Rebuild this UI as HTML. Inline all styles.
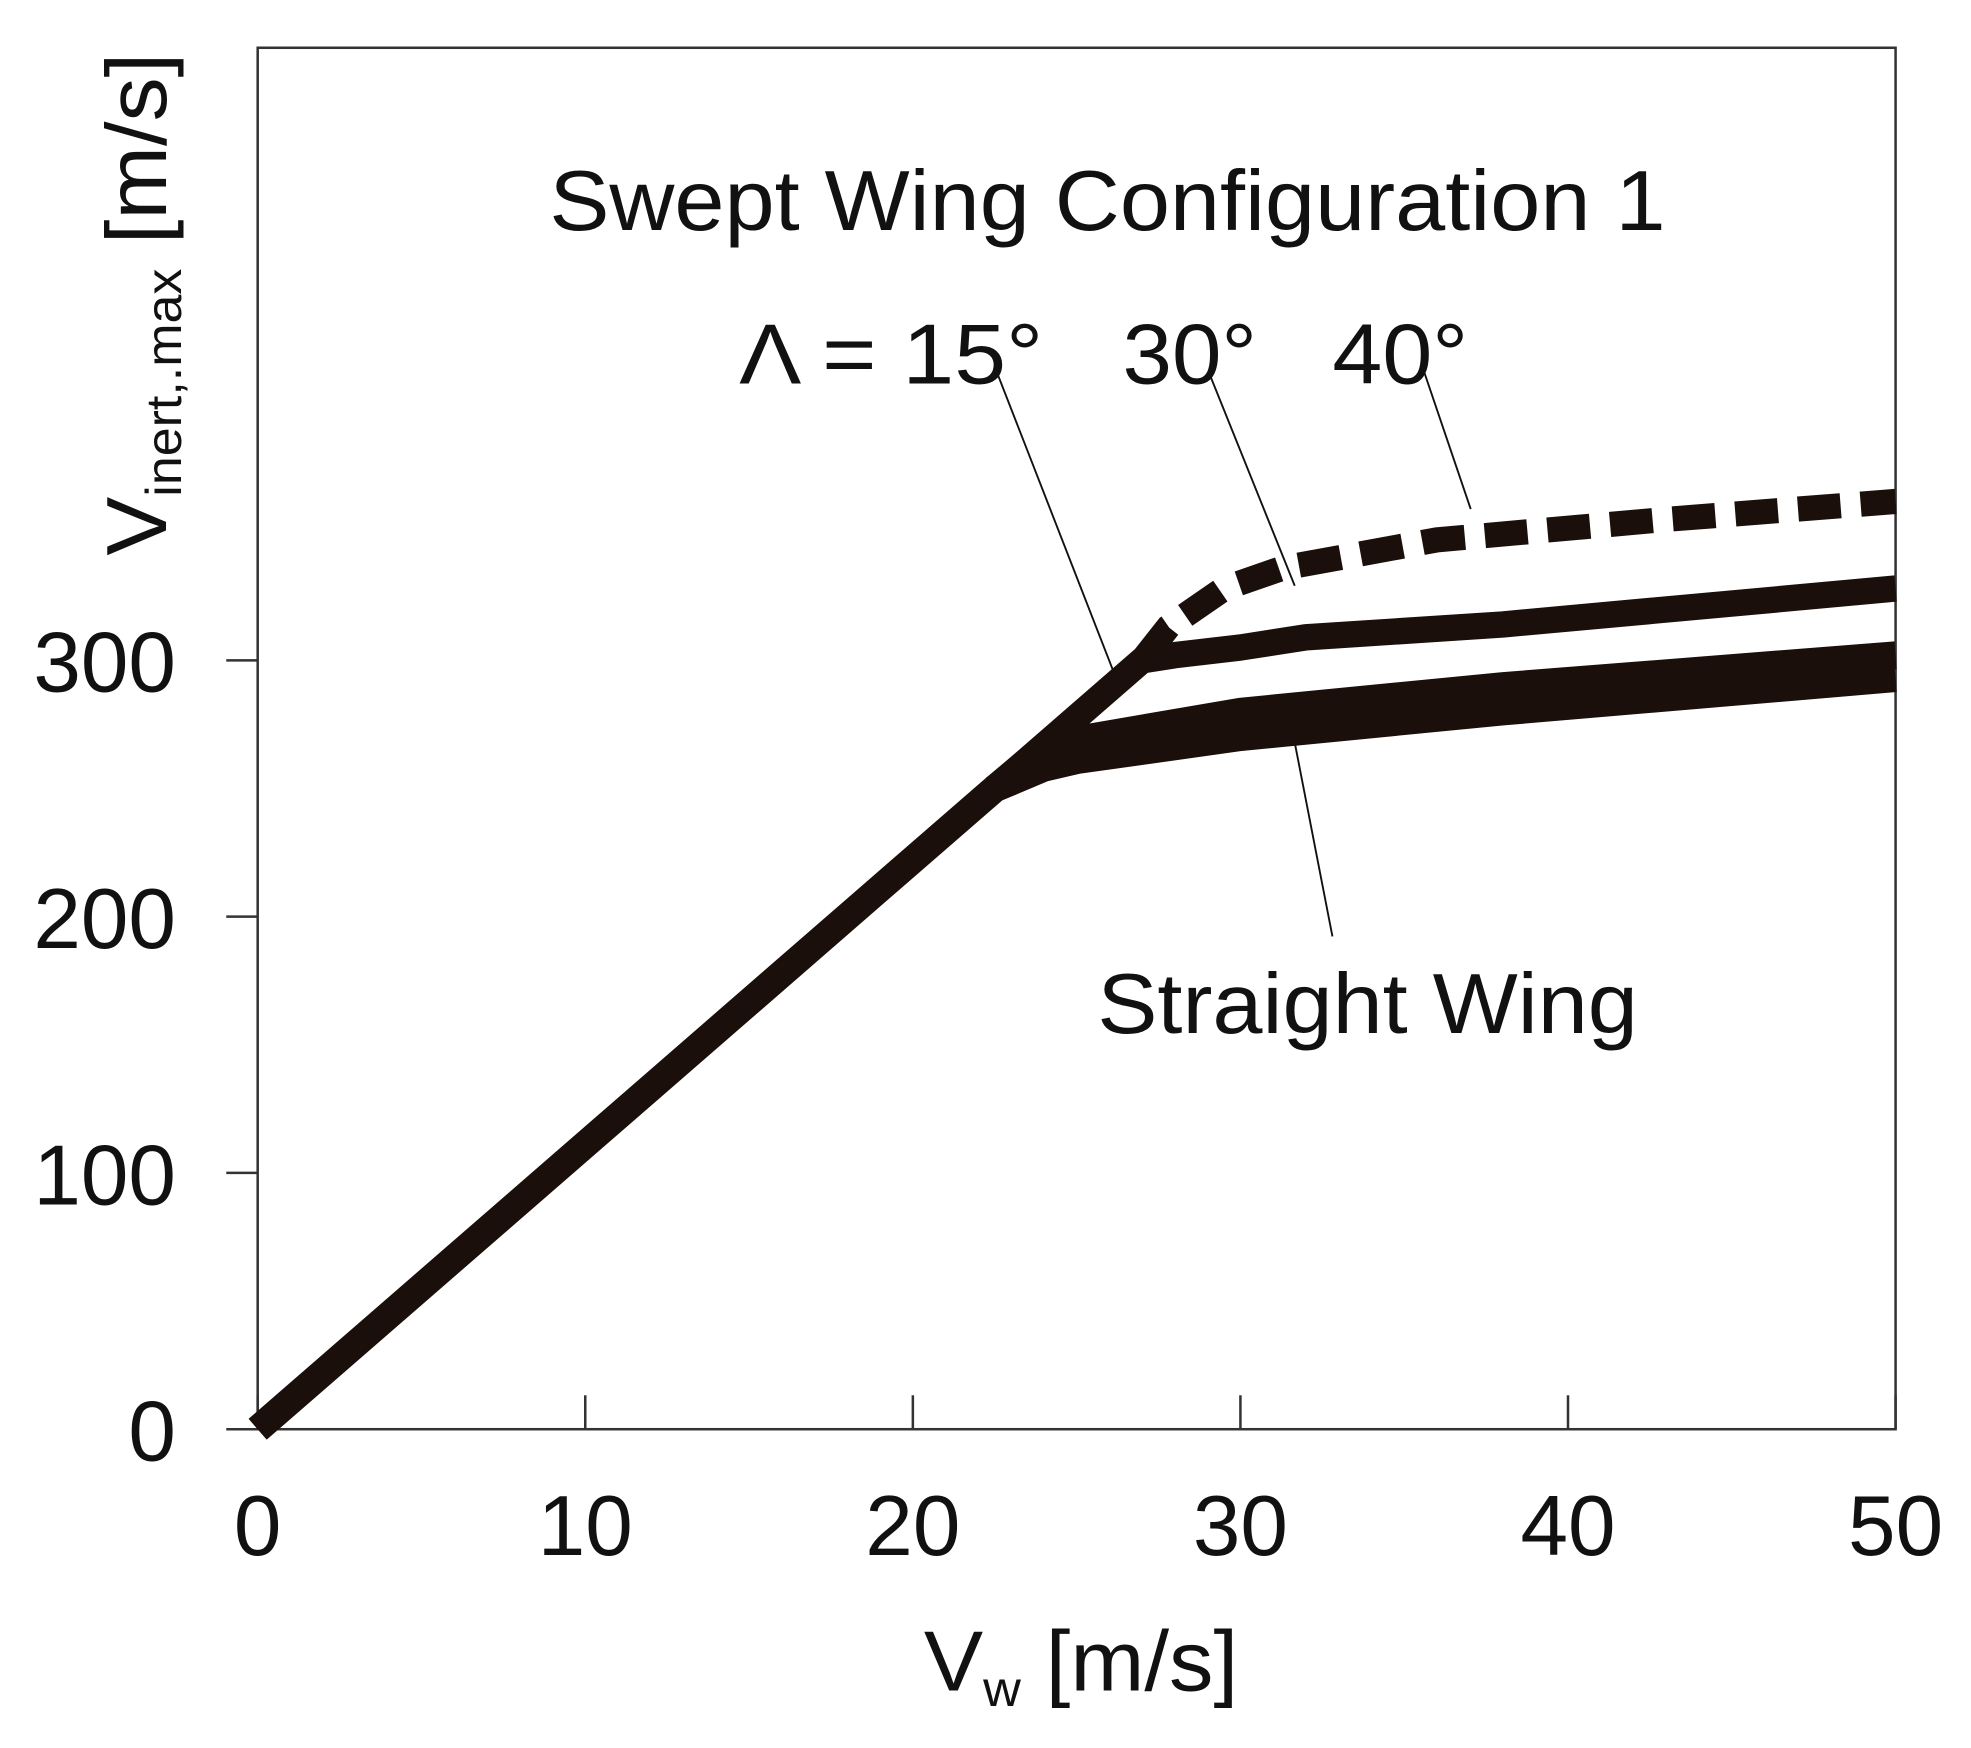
<!DOCTYPE html>
<html><head><meta charset="utf-8"><style>
html,body{margin:0;padding:0;background:#fff;}
svg{display:block;}
text{font-family:"Liberation Sans",Arial,sans-serif;fill:#111;}
</style></head><body>
<svg width="1971" height="1748" viewBox="0 0 1568 1390.6" preserveAspectRatio="none" xmlns="http://www.w3.org/2000/svg">
<g id="plot"></g>
</svg>
<script>
const xTicks=[0,10,20,30,40,50];
const yTicks=[0,100,200,300];
const straightX=[0,22.5,24,25,30,38,50];
const straightY=[0,250,258,261,270,280,293];
const sweep15X=[22.5,24,25,30,38,50];
const sweep15Y=[250,266,269,280,290,302];
const sweep30X=[0,27,28,30,32,38,50];
const sweep30Y=[0,300,302,305,309,314,328];
const sweep40X=[27,27.8,29.5,31.3,36,43,50];
const sweep40Y=[300,313,328,336,347,355,362];

const L=205,R=1508,T=38,B=1137,YMAX=539;
const sx=v=>L+(R-L)*v/50;
const sy=v=>B-(B-T)*v/YMAX;
const NS='http://www.w3.org/2000/svg';
const g=document.getElementById('plot');
function mk(tag,attrs,parent){const e=document.createElementNS(NS,tag);for(const k in attrs)e.setAttribute(k,attrs[k]);(parent||g).appendChild(e);return e;}
function pts(xs,ys){return xs.map((x,i)=>sx(x).toFixed(1)+','+sy(ys[i]).toFixed(1)).join(' ');}

let f=mk('rect',{x:L,y:T,width:R-L,height:B-T,fill:'none',stroke:'#333','stroke-width':2});



xTicks.forEach(v=>{
  let t=mk('line',{x1:sx(v),x2:sx(v),y1:B,y2:B-27,stroke:'#333','stroke-width':2});
  
  
  let l=mk('text',{x:sx(v),y:1237,'font-size':68,'text-anchor':'middle'});
  l.textContent=v;
  
  
});
yTicks.forEach(v=>{
  let t=mk('line',{x1:180,x2:L,y1:sy(v),y2:sy(v),stroke:'#333','stroke-width':2});
  
  
  let l=mk('text',{x:140,y:sy(v)+25,'font-size':68,'text-anchor':'end'});
  l.textContent=v;
  
  
});

[[793,296,890,545],[962,297,1030,466],[1025,565,1060,745],[1133,296,1170,405]].forEach((c,i)=>{
  let ln=mk('line',{x1:c[0],y1:c[1],x2:c[2],y2:c[3],stroke:'#111','stroke-width':1.5});
  
  
});

let s=mk('polyline',{points:pts(straightX,straightY),fill:'none',stroke:'#1a0f0a','stroke-width':22,'stroke-linejoin':'round'});


let a=mk('polyline',{points:pts(sweep15X,sweep15Y),fill:'none',stroke:'#1a0f0a','stroke-width':22,'stroke-linejoin':'round'});


let b=mk('polyline',{points:pts(sweep30X,sweep30Y),fill:'none',stroke:'#1a0f0a','stroke-width':21,'stroke-linejoin':'round'});


let c=mk('polyline',{points:pts(sweep40X,sweep40Y),fill:'none',stroke:'#1a0f0a','stroke-width':20,'stroke-dasharray':'34 16'});



function txt(name,x,y,size,str,extra){let e=mk('text',Object.assign({x:x,y:y,'font-size':size},extra||{}));e.textContent=str;return e;}
txt('swept-wing-title',437,183,68,'Swept Wing Configuration 1',{textLength:888,lengthAdjust:'spacingAndGlyphs'});
txt('lambda-15-label',588,305,68,'Λ = 15°',{textLength:242,lengthAdjust:'spacingAndGlyphs'});
txt('sweep-30-label',893,305,68,'30°',{textLength:107,lengthAdjust:'spacingAndGlyphs'});
txt('sweep-40-label',1060,305,68,'40°',{textLength:108,lengthAdjust:'spacingAndGlyphs'});
txt('straight-wing-label',873,822,68,'Straight Wing',{textLength:430,lengthAdjust:'spacingAndGlyphs'});

let xt=mk('text',{x:735,y:1345,'font-size':68,textLength:250,lengthAdjust:'spacingAndGlyphs'});


xt.innerHTML='V<tspan font-size="40" dy="12">w</tspan><tspan dy="-12"> [m/s]</tspan>';

let yt=mk('text',{x:0,y:0,'font-size':68,transform:'translate(132,442) rotate(-90)',textLength:400,lengthAdjust:'spacingAndGlyphs'});


yt.innerHTML='V<tspan font-size="40" dy="12">inert,.max</tspan><tspan dy="-12"> [m/s]</tspan>';
</script>
</body></html>
